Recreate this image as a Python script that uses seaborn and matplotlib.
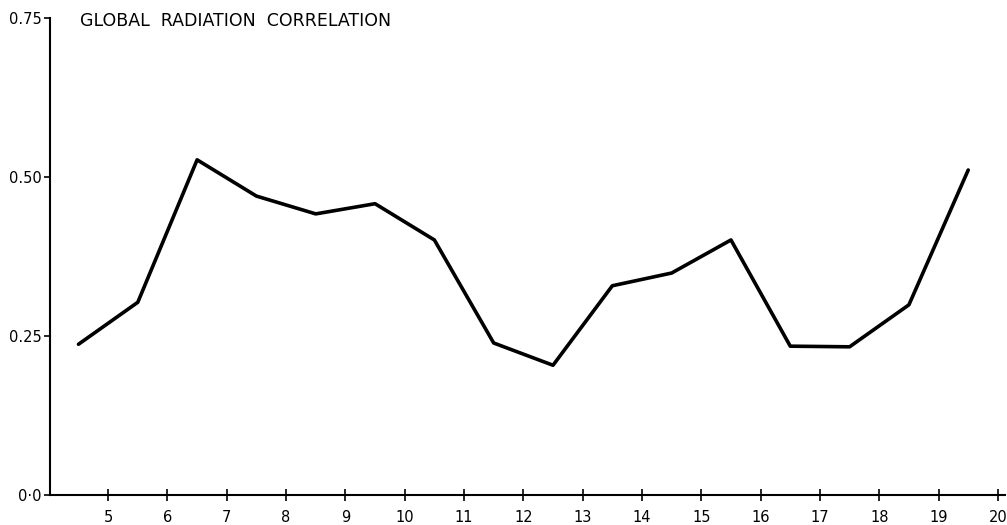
import numpy as np
import pandas as pd
import seaborn as sns
import matplotlib.pyplot as plt

sns.set_style("ticks")
plt.rcParams["font.family"] = ["DejaVu Sans"]
plt.rcParams["text.color"] = "black"
plt.rcParams["xtick.color"] = "black"
plt.rcParams["ytick.color"] = "black"
plt.rcParams["axes.edgecolor"] = "black"

# values (points sit at the half-hour marks)
hours = [4.5, 5.5, 6.5, 7.5, 8.5, 9.5, 10.5, 11.5, 12.5, 13.5, 14.5, 15.5, 16.5, 17.5, 18.5, 19.5]
correlation = [0.237, 0.303, 0.527, 0.470, 0.442, 0.458, 0.401, 0.239,
               0.204, 0.329, 0.349, 0.401, 0.234, 0.233, 0.299, 0.511]
x_ticks = list(range(5, 21))
y_ticks = [0.0, 0.25, 0.50, 0.75]
y_labels = ["0\u00b70", "0.25", "0.50", "0.75"]

df = pd.DataFrame({"hour": hours, "corr": correlation})

fig = plt.figure(figsize=(10.07, 5.25), dpi=100)
ax = fig.add_axes([50 / 1007, 30 / 525, 955 / 1007, 477 / 525])

sns.lineplot(data=df, x="hour", y="corr", ax=ax, color="black", linewidth=2.6)

ax.set_xlim(4.02, 20.12)
ax.set_ylim(0, 0.75)
ax.set_xticks(x_ticks)
ax.set_xticklabels([str(t) for t in x_ticks], fontsize=10.5)
ax.set_yticks(y_ticks)
ax.set_yticklabels(y_labels, fontsize=10.5)
ax.tick_params(axis="x", direction="inout", length=9, width=1.2, pad=6)
ax.tick_params(axis="y", direction="out", length=4, width=1.2, pad=2)
ax.set_xlabel("")
ax.set_ylabel("")
for s in ["left", "bottom"]:
    ax.spines[s].set_linewidth(1.5)
sns.despine(ax=ax)

fig.text(80 / 1007, 1 - 12 / 525, "GLOBAL  RADIATION  CORRELATION",
         fontsize=12.5, va="top", ha="left")

fig.savefig("out.png", dpi=100)
